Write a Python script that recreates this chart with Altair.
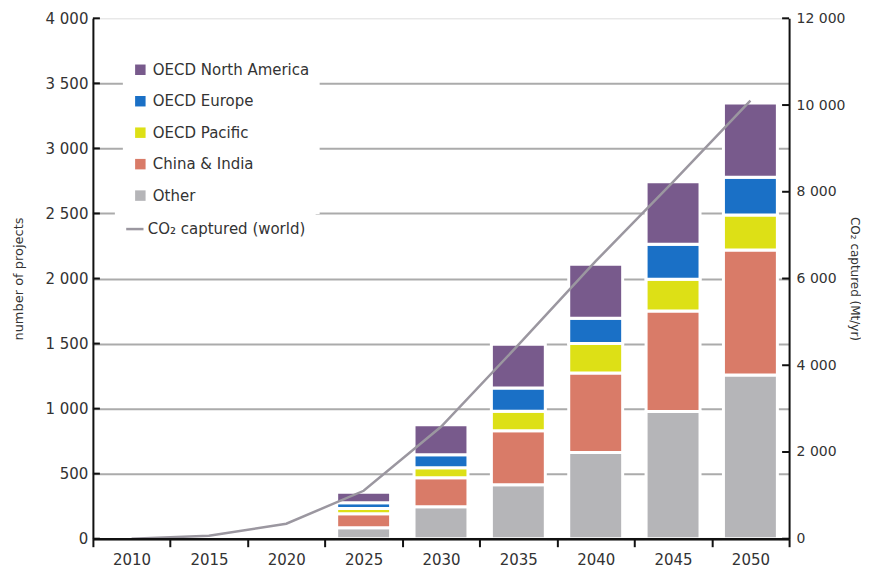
import altair as alt
import pandas as pd

# ---------------- data ----------------
years = ["2010", "2015", "2020", "2025", "2030", "2035", "2040", "2045", "2050"]
bar_years = ["2025", "2030", "2035", "2040", "2045", "2050"]
regions = ["Other", "China & India", "OECD Pacific", "OECD Europe", "OECD North America"]
other = [84, 246, 415, 663, 977, 1259]
china_india = [108, 222, 414, 611, 773, 960]
oecd_pacific = [40, 77, 150, 227, 244, 269]
oecd_europe = [45, 100, 180, 193, 269, 291]
oecd_north_america = [81, 230, 336, 415, 480, 571]
co2_captured = [0, 70, 345, 1105, 2580, 4470, 6400, 8230, 10100]
line_name = "CO₂ captured (world)"

legend_order = ["OECD North America", "OECD Europe", "OECD Pacific", "China & India", "Other"]
legend_colors = ["#785a8c", "#1a70c6", "#dde016", "#d97b68", "#b5b5b8"]
line_color = "#9b97a0"

left_ticks = list(range(0, 4001, 500))
right_ticks = list(range(0, 12001, 2000))

series = [other, china_india, oecd_pacific, oecd_europe, oecd_north_america]
rows = []
for k, (name, vals) in enumerate(zip(regions, series)):
    for y, v in zip(bar_years, vals):
        rows.append({"year": y, "region": name, "projects": v, "stack": k})
df_bars = pd.DataFrame(rows)
df_line = pd.DataFrame({"year": years, "co2": co2_captured, "series": line_name})
df_lt = pd.DataFrame({"v": left_ticks})
df_rt = pd.DataFrame({"v": right_ticks})

# ---------------- layout ----------------
W, H = 697, 521
TICK = 7
FONT = "DejaVu Sans"
fmt = "replace(format(datum.value, ','), ',', ' ')"

xscale = alt.Scale(type="band", domain=years, paddingInner=0, paddingOuter=0)
x_axis = alt.Axis(title=None, tickBand="extent", tickSize=8, tickWidth=2, tickColor="#111",
                  domainColor="#111", domainWidth=2.5, labelFontSize=15, labelFont=FONT,
                  labelColor="#333", labelPadding=6, labelAngle=0, grid=False, zindex=1)
xenc = alt.X("year:O", scale=xscale, axis=x_axis)

yscale_left = alt.Scale(domain=[0, 4000], nice=False, zero=True)
yscale_right = alt.Scale(domain=[0, 12000], nice=False, zero=True)

bar_legend = alt.Legend(
    title=None, orient="none", legendX=30, legendY=34, fillColor="white", padding=10,
    labelFont=FONT, labelFontSize=15, labelColor="#333", labelOffset=5,
    symbolType="square", symbolSize=110, symbolStrokeWidth=0, symbolOpacity=1,
    rowPadding=15.5, values=legend_order,
)
line_legend = alt.Legend(
    title=None, orient="none", legendX=22, legendY=191, fillColor="white", padding=10,
    labelFont=FONT, labelFontSize=15, labelColor="#333", labelOffset=3,
    symbolType="stroke", symbolSize=300, symbolStrokeWidth=2.5,
)

bars = alt.Chart(df_bars).mark_bar(size=54, stroke="white", strokeWidth=3).encode(
    x=xenc,
    y=alt.Y("projects:Q", stack="zero", scale=yscale_left,
            axis=alt.Axis(orient="left", values=left_ticks, labelExpr=fmt,
                          title="number of projects", titleFontSize=13, titleFontWeight="normal",
                          titleFont=FONT, titleColor="#333", titlePadding=20,
                          labelFont=FONT, labelFontSize=15, labelColor="#333", labelPadding=5,
                          tickSize=0, domainColor="#111", domainWidth=2,
                          grid=True, gridColor="#ababab", gridWidth=2,
                          gridOpacity={"condition": {"test": "datum.value >= 4000", "value": 0}, "value": 1})),
    color=alt.Color("region:N", scale=alt.Scale(domain=legend_order, range=legend_colors), legend=bar_legend),
    order=alt.Order("stack:Q", sort="ascending"),
)

# inward tick marks of the left axis (tick values through the left scale)
ticks_left = alt.Chart(df_lt).mark_rule(color="#111", strokeWidth=2).encode(
    y=alt.Y("v:Q", scale=yscale_left, axis=None),
    x=alt.value(0), x2=alt.value(TICK),
)

line = alt.Chart(df_line).mark_line(strokeWidth=2.5).encode(
    x=xenc,
    y=alt.Y("co2:Q", scale=yscale_right,
            axis=alt.Axis(orient="right", values=right_ticks, labelExpr=fmt,
                          title="CO₂ captured (Mt/yr)", titleFontSize=12, titleFontWeight="normal",
                          titleFont=FONT, titleColor="#333", titlePadding=3,
                          labelFont=FONT, labelFontSize=14, labelColor="#333", labelPadding=7,
                          tickSize=0, domainColor="#111", domainWidth=2, grid=False, zindex=1)),
    stroke=alt.Stroke("series:N", scale=alt.Scale(domain=[line_name], range=[line_color]), legend=line_legend),
)

# inward tick marks of the right axis (tick values through the right scale)
ticks_right = alt.Chart(df_rt).mark_rule(color="#111", strokeWidth=2).encode(
    y=alt.Y("v:Q", scale=yscale_right, axis=None),
    x=alt.value(W - TICK), x2=alt.value(W),
)

chart = alt.layer(bars, line, ticks_left, ticks_right).resolve_scale(
    y="independent"
).properties(
    width=W, height=H,
    padding={"left": 4, "top": 3, "right": 0, "bottom": 0},
).configure_view(stroke=None).configure(font=FONT)

chart.save("out.html", embed_options={"renderer": "svg", "actions": False})
